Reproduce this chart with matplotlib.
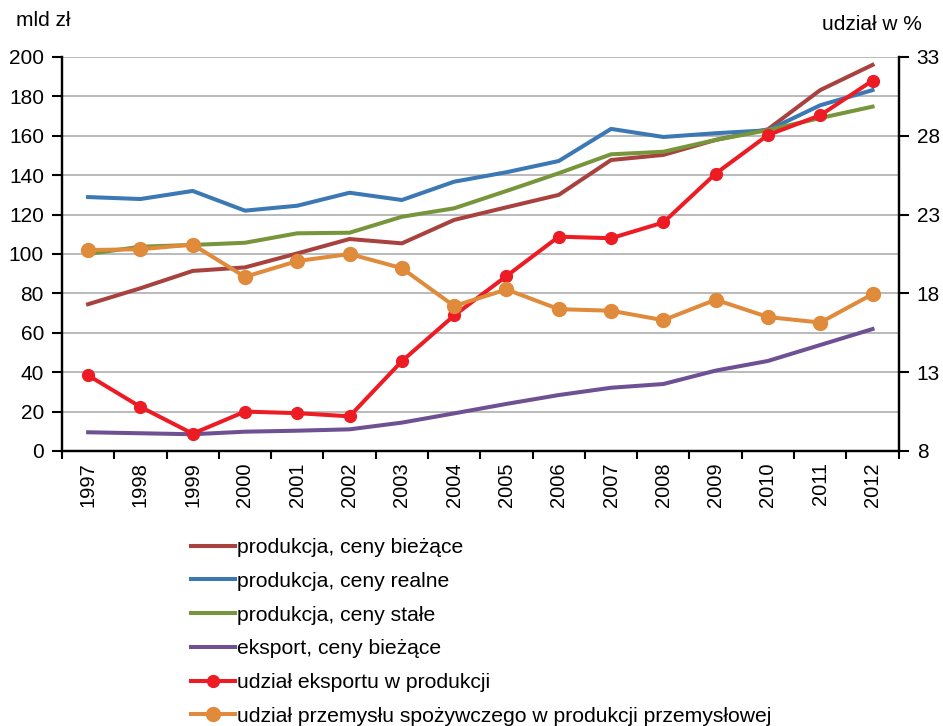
import numpy as np
import matplotlib.pyplot as plt
from matplotlib.ticker import MultipleLocator, FixedLocator

plt.rcParams['font.family'] = ['Liberation Sans', 'DejaVu Sans']

lata = [str(r) for r in range(1997, 2013)]

# mld zł (lewa oś)
prod_biezace = [74.5, 82.6, 91.4, 93.2, 100.3, 107.6, 105.4, 117.3, 123.7, 130.0,
                147.7, 150.3, 157.9, 163.3, 183.2, 196.0]
prod_realne = [128.9, 127.9, 132.0, 122.0, 124.5, 131.1, 127.4, 136.7, 141.5, 147.2,
               163.5, 159.4, 161.3, 162.8, 175.5, 183.2]
prod_stale = [100.0, 103.7, 104.6, 105.7, 110.5, 110.8, 118.9, 123.2, 132.0, 141.0,
              150.6, 151.9, 157.9, 162.9, 169.0, 174.8]
eksport = [9.5, 9.0, 8.5, 9.8, 10.3, 11.0, 14.4, 19.1, 23.9, 28.4,
           32.1, 34.0, 40.8, 45.7, 53.8, 61.9]

# udział w % (prawa oś)
udzial_eksportu = [12.8, 10.8, 9.1, 10.5, 10.4, 10.2, 13.7, 16.6, 19.1, 21.6,
                   21.5, 22.5, 25.6, 28.05, 29.3, 31.5]
udzial_spozywczego = [20.75, 20.8, 21.1, 19.05, 20.05, 20.5, 19.6, 17.2, 18.25, 17.0,
                      16.9, 16.3, 17.6, 16.5, 16.15, 17.95]
prawe_ticki = [8, 13, 18, 23, 28, 33]

x = np.arange(len(lata))

fig, ax = plt.subplots(figsize=(9.43, 7.26), dpi=100)
fig.subplots_adjust(left=0.0657, right=0.953, top=0.9215, bottom=0.3788)
ax2 = ax.twinx()

l1, = ax.plot(x, prod_biezace, color='#a8423f', lw=2.9, label='produkcja, ceny bieżące')
l2, = ax.plot(x, prod_realne, color='#3c78b4', lw=2.9, label='produkcja, ceny realne')
l3, = ax.plot(x, prod_stale, color='#77963c', lw=2.9, label='produkcja, ceny stałe')
l4, = ax.plot(x, eksport, color='#6d5193', lw=2.9, label='eksport, ceny bieżące')
l5, = ax2.plot(x, udzial_eksportu, color='#ed1c24', lw=2.9, marker='o', ms=8.5,
               label='udział eksportu w produkcji')
l6, = ax2.plot(x, udzial_spozywczego, color='#e08a3c', lw=2.9, marker='o', ms=10,
               label='udział przemysłu spożywczego w produkcji przemysłowej')

ax.set_xlim(-0.5, len(lata) - 0.5)
ax.set_ylim(0, 200)
ax2.set_ylim(8, 33)
ax.yaxis.set_major_locator(MultipleLocator(20))
ax2.yaxis.set_major_locator(FixedLocator(prawe_ticki))

ax.grid(axis='y', color='#b4b4b4', lw=1.3)
ax.set_axisbelow(True)

# podziałki między latami, etykiety na środku
ax.xaxis.set_major_locator(FixedLocator(np.arange(-0.5, len(lata), 1)))
ax.xaxis.set_minor_locator(FixedLocator(x))
ax.set_xticklabels([])
ax.set_xticklabels(lata, minor=True)
ax.tick_params(axis='x', which='major', length=6, width=1.5, direction='out')
ax.tick_params(axis='x', which='minor', length=0, pad=8, labelsize=14.5, labelrotation=90)

ax.tick_params(axis='y', labelsize=15, length=7, width=1.5, pad=6)
ax2.tick_params(axis='y', labelsize=15, length=7, width=1.5, pad=6)

for a in (ax, ax2):
    a.spines['top'].set_visible(False)
    for s in ('left', 'right', 'bottom'):
        a.spines[s].set_linewidth(1.6)

fig.text(0.017, 0.972, 'mld zł', fontsize=15, ha='left', va='center')
fig.text(0.978, 0.966, 'udział w %', fontsize=15, ha='right', va='center')

fig.legend(handles=[l1, l2, l3, l4, l5, l6], loc='upper left',
           bbox_to_anchor=(0.2025, 0.259), frameon=False, fontsize=15.2,
           handlelength=2.1, handletextpad=0.1, labelspacing=0.7,
           borderpad=0, borderaxespad=0)

fig.savefig('out.png', dpi=100)
